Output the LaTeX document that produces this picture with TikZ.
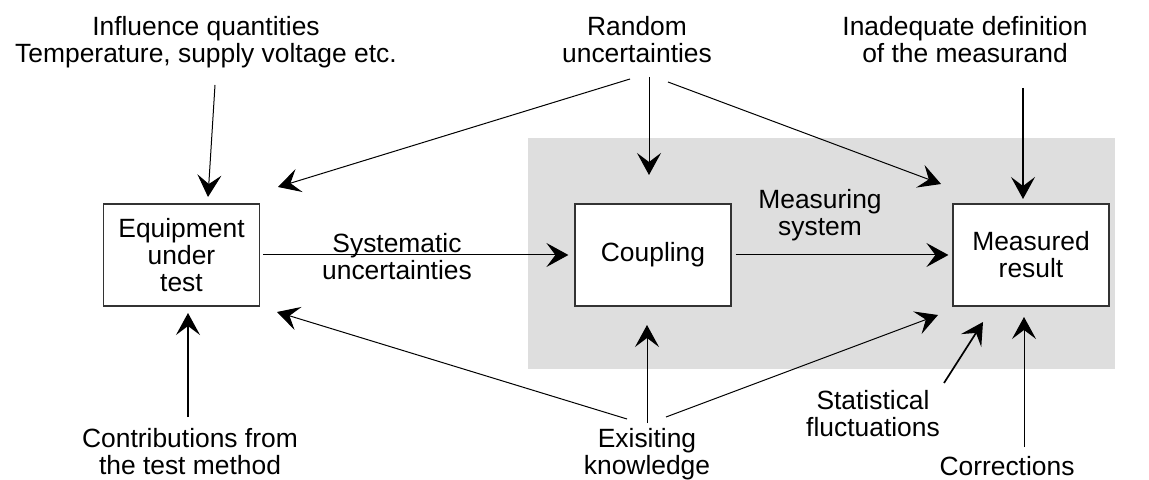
\documentclass[tikz,border=0pt]{standalone}
\usepackage{fontspec}
\setmainfont{Liberation Sans}
\usetikzlibrary{arrows.meta,calc}
\begin{document}
\begin{tikzpicture}[x=0.5pt,y=-0.5pt,
	box/.style={rectangle, draw=black!80, line width=0.6pt, fill=white, minimum width=78pt, minimum height=51pt, inner sep=0pt, align=center, font=\fontsize{13.2}{13.5}\selectfont},
	txt/.style={align=center, inner sep=0pt, font=\fontsize{13.2}{13.5}\selectfont},
	ln/.style={line width=0.5pt, ->},
	lnthick/.style={line width=0.85pt, ->},
	>={Stealth[length=11pt, width=12pt, inset=4.5pt]}]
	\useasboundingbox (0,0) rectangle (1149,480);

	%Measuring system area
	\fill[black!13] (528,138) rectangle (1115,369);

	%Nodes
	\node[box]	(eut)	at (181.5,255)	{Equipment\\under\\test};
	\node[box]	(coup)	at (653,255)	{Coupling};
	\node[box]	(meas)	at (1031,255)	{Measured\\result};

	\node[txt]	(infl)	at (206,42)	{Influence quantities\\Temperature, supply voltage etc.};
	\node[txt]	(rand)	at (637,40)	{Random\\uncertainties};
	\node[txt]	(inad)	at (965,40)	{Inadequate definition\\of the measurand};
	\node[txt]	(syst)	at (397,256.5)	{Systematic\\uncertainties};
	\node[txt]	(msys)	at (820,215.5)	{Measuring\\system};
	\node[txt]	(contr)	at (190,451.5)	{Contributions from\\the test method};
	\node[txt]	(exist)	at (647,454)	{Exisiting\\knowledge};
	\node[txt]	(stat)	at (873,413.5)	{Statistical\\fluctuations};
	\node[txt]	(corr)	at (1007,466.5)	{Corrections};

	%Lines
	\draw[ln] ($(infl)+(9,43)$) -- ($(eut)+(26.5,-58)$);
	\draw[ln] ($(rand)+(-7,39)$) -- ($(eut)+(96.5,-68)$);
	\draw[ln] ($(rand)+(12,37)$) -- ($(coup)+(-4,-80)$);
	\draw[ln] ($(rand)+(31,42)$) -- ($(meas)+(-90,-71)$);
	\draw[lnthick] ($(inad)+(58,48)$) -- ($(meas)+(-8,-56)$);
	\draw[ln] ($(eut.east)+(3,0)$) -- ($(coup.west)+(-6,0)$);
	\draw[ln] ($(coup.east)+(4,0)$) -- ($(meas.west)+(-4,0)$);
	\draw[lnthick] ($(contr)+(-2,-34.5)$) -- ($(eut)+(6.5,58)$);
	\draw[ln] ($(exist)+(-20,-35)$) -- ($(eut)+(95.5,57)$);
	\draw[ln] ($(exist)+(0,-31)$) -- ($(coup)+(-6,70)$);
	\draw[ln] ($(exist)+(19,-37)$) -- ($(meas)+(-93,60)$);
	\draw[lnthick] ($(stat)+(71,-30.5)$) -- ($(meas)+(-48,67)$);
	\draw[ln] ($(corr)+(17,-19.5)$) -- ($(meas)+(-7,62)$);
\end{tikzpicture}
\end{document}
